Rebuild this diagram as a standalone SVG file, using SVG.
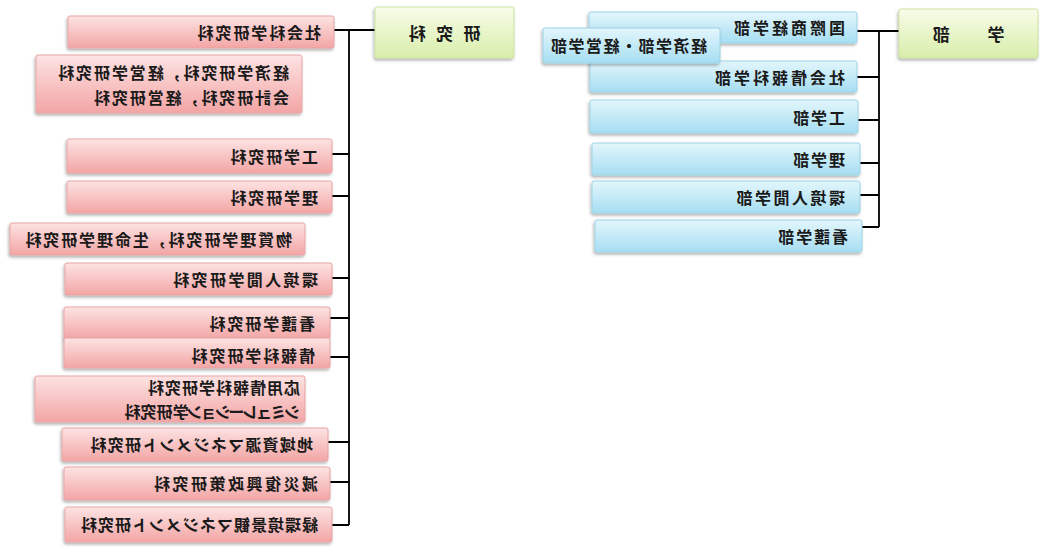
<svg xmlns="http://www.w3.org/2000/svg" width="1040" height="551" viewBox="0 0 1040 551">
<style>
.t{font-family:"Noto Sans CJK JP","Noto Sans CJK SC",sans-serif;font-size:16px;letter-spacing:1.9px;font-weight:bold;fill:#1a1a1a;dominant-baseline:central}
.h{text-anchor:middle;font-size:17px}
.pk{fill:url(#gp);stroke:#e7a5a5;stroke-width:1;filter:url(#sh)}
.bl{fill:url(#gb);stroke:#9dd3e6;stroke-width:1;filter:url(#sh)}
.gr{fill:url(#gg);stroke:#cde3a4;stroke-width:1;filter:url(#sh)}
</style>
<defs>
<linearGradient id="gp" x1="0" y1="0" x2="0" y2="1"><stop offset="0" stop-color="#fde3e3"/><stop offset="1" stop-color="#f3a5a5"/></linearGradient>
<linearGradient id="gb" x1="0" y1="0" x2="0" y2="1"><stop offset="0" stop-color="#e3f6fc"/><stop offset="1" stop-color="#a6def2"/></linearGradient>
<linearGradient id="gg" x1="0" y1="0" x2="0" y2="1"><stop offset="0" stop-color="#f8fce9"/><stop offset="1" stop-color="#d8eeaa"/></linearGradient>
<filter id="sh" x="-5%" y="-20%" width="110%" height="150%"><feDropShadow dx="1" dy="2" stdDeviation="1.5" flood-color="#000" flood-opacity="0.3"/></filter>
</defs>
<rect width="1040" height="551" fill="#fff"/>
<g transform="matrix(-1 0 0 1 1040 0)">
<g id="connectors" stroke="#000" stroke-width="1.8" fill="none">
<path d="M665 30H706M691 30V525M691 154H708M691 196H708M691 278H708M691 318H710M691 357H710M691 442H712M691 482H710M691 525H708"/>
<path d="M141 31H183M161 31V227M161 77H183M161 120H182M161 163H180M161 195H180M161 227H178"/>
</g>
<g id="kenkyuka"><rect class="gr" x="526" y="7" width="139" height="51" rx="2"/><text class="t h" x="597" y="32" style="letter-spacing:3.3px">研 究 科</text></g>
<g id="gakubu"><rect class="gr" x="2" y="9" width="139" height="49" rx="2"/><text class="t h" x="72" y="33" style="letter-spacing:1.3px">学　　部</text></g>
<g id="g-shakai"><rect class="pk" x="706" y="16" width="266" height="32" rx="2"/><text class="t" x="719" y="32">社会科学研究科</text></g>
<g id="g-keizai"><rect class="pk" x="738" y="55" width="266" height="58" rx="2"/><text class="t" x="751" y="72">経済学研究科，経営学研究科</text><text class="t" x="751" y="97">会計研究科，経営研究科</text></g>
<g id="g-kogaku"><rect class="pk" x="708" y="139" width="265" height="34" rx="2"/><text class="t" x="722" y="156">工学研究科</text></g>
<g id="g-rigaku"><rect class="pk" x="708" y="181" width="265" height="32" rx="2"/><text class="t" x="722" y="197">理学研究科</text></g>
<g id="g-busshitsu"><rect class="pk" x="735" y="223" width="295" height="32" rx="2"/><text class="t" x="748" y="239">物質理学研究科，生命理学研究科</text></g>
<g id="g-kankyo"><rect class="pk" x="708" y="263" width="267" height="32" rx="2"/><text class="t" x="722" y="279" style="letter-spacing:2.4px">環境人間学研究科</text></g>
<g id="g-kango"><rect class="pk" x="710" y="307" width="266" height="32" rx="2"/><text class="t" x="725" y="323">看護学研究科</text></g>
<g id="g-joho"><rect class="pk" x="710" y="338" width="266" height="30" rx="2"/><text class="t" x="725" y="355">情報科学研究科</text></g>
<g id="g-oyo"><rect class="pk" x="735" y="376" width="270" height="46" rx="2"/><text class="t" x="740" y="387" style="letter-spacing:1px">応用情報科学研究科</text><text class="t" x="740" y="411"><tspan style="letter-spacing:-2px">シミュレーション</tspan><tspan style="letter-spacing:0px">学研究科</tspan></text></g>
<g id="g-chiiki"><rect class="pk" x="712" y="428" width="266" height="33" rx="2"/><text class="t" x="727" y="444" style="letter-spacing:1.2px">地域資源マネジメント研究科</text></g>
<g id="g-gensai"><rect class="pk" x="710" y="467" width="266" height="33" rx="2"/><text class="t" x="722" y="483" style="letter-spacing:2.5px">減災復興政策研究科</text></g>
<g id="g-midori"><rect class="pk" x="708" y="507" width="267" height="35" rx="2"/><text class="t" x="722" y="524" style="letter-spacing:1px">緑環境景観マネジメント研究科</text></g>
<g id="b-kokusai"><rect class="bl" x="183" y="12" width="268" height="31" rx="2"/><text class="t" x="195" y="27" style="letter-spacing:3px">国際商経学部</text></g>
<g id="b-shajo"><rect class="bl" x="183" y="61" width="267" height="31" rx="2"/><text class="t" x="195" y="77" style="letter-spacing:3px">社会情報科学部</text></g>
<g id="b-keizai"><rect class="bl" x="320" y="28" width="177" height="35" rx="2"/><text class="t" x="333" y="45" style="letter-spacing:1.5px">経済学部・経営学部</text></g>
<g id="b-kogaku"><rect class="bl" x="182" y="100" width="268" height="33" rx="2"/><text class="t" x="195" y="117">工学部</text></g>
<g id="b-rigaku"><rect class="bl" x="180" y="143" width="268" height="32" rx="2"/><text class="t" x="195" y="159">理学部</text></g>
<g id="b-kankyo"><rect class="bl" x="180" y="181" width="268" height="32" rx="2"/><text class="t" x="195" y="197" style="letter-spacing:2.5px">環境人間学部</text></g>
<g id="b-kango"><rect class="bl" x="178" y="220" width="267" height="32" rx="2"/><text class="t" x="192" y="236">看護学部</text></g>
</g>
</svg>
